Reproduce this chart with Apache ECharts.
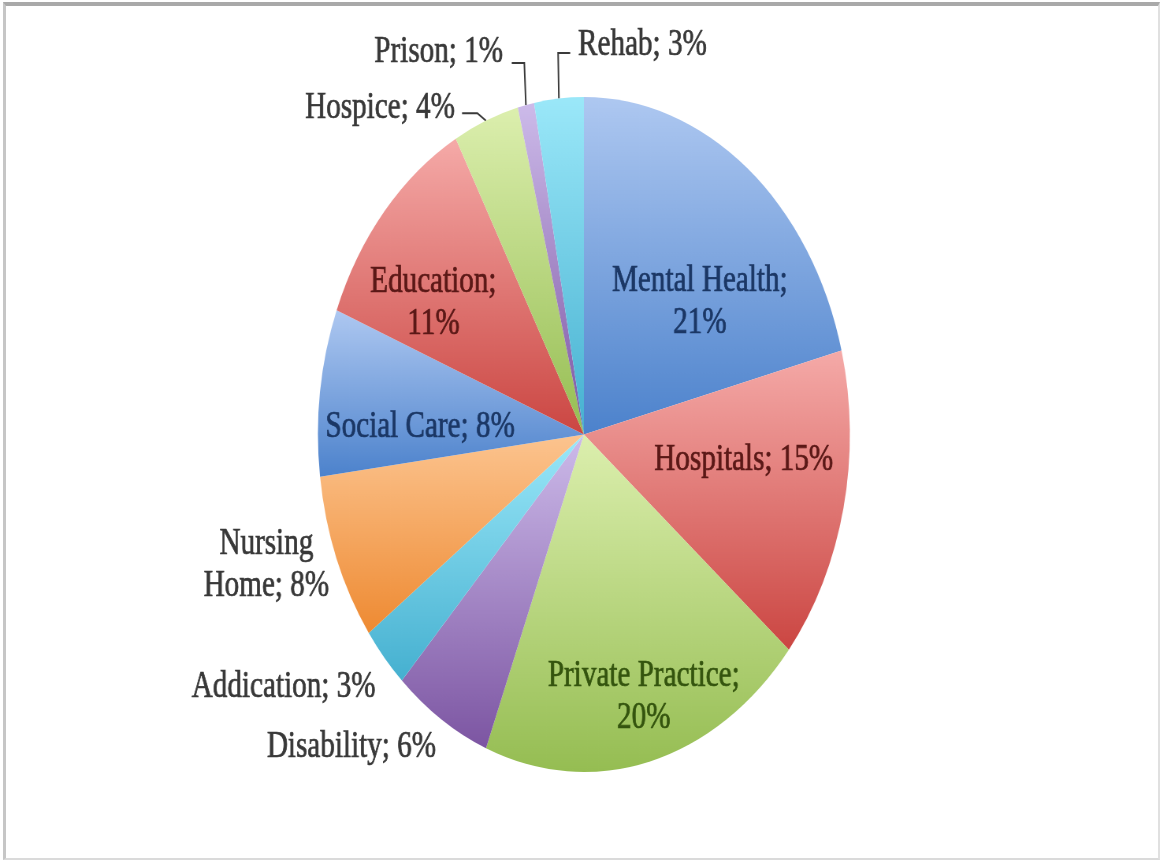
<!DOCTYPE html>
<html>
<head>
<meta charset="utf-8">
<script src="https://cdn.jsdelivr.net/npm/echarts@6/dist/echarts.min.js"></script>
<style>
html,body{margin:0;padding:0;background:#fff;overflow:hidden;width:1161px;height:861px}
#frame{position:absolute;left:3px;top:2px;width:1157px;height:858px;box-sizing:border-box;
  border-top:4px solid #a9a9a9;border-left:3px solid #c6c6c6;border-right:2px solid #e0e0e0;border-bottom:2px solid #dadada;
  pointer-events:none;z-index:2}
#chart{position:absolute;left:0;top:0;width:1473px;height:861px;transform:scaleX(0.788);transform-origin:0 0}
</style>
</head>
<body>
<div id="chart"></div>
<div id="frame"></div>
<script>
// ---- data ----
const categories = ['Mental Health', 'Hospitals', 'Private Practice', 'Disability', 'Addication',
  'Nursing Home', 'Social Care', 'Education', 'Hospice', 'Prison', 'Rehab'];
const values = [21, 15, 20, 6, 3, 8, 8, 11, 4, 1, 3];
const labelTexts = ['Mental Health;\n{v}%', 'Hospitals; {v}%', 'Private Practice;\n{v}%', 'Disability; {v}%',
  'Addication; {v}%', 'Nursing\nHome; {v}%', 'Social Care; {v}%', 'Education;\n{v}%', 'Hospice; {v}%',
  'Prison; {v}%', 'Rehab; {v}%'];

// ---- styling ----
const HUES = [
  {top: '#aec8f1', bottom: '#4c82cc', text: '#1b3765'},
  {top: '#f5aaa8', bottom: '#cb4642', text: '#5a1816'},
  {top: '#dcefae', bottom: '#95bd52', text: '#34540e'},
  {top: '#cdbbea', bottom: '#7c55a2', text: '#3a2454'},
  {top: '#9be8f9', bottom: '#45b0d0', text: '#124a5a'},
  {top: '#fcc48f', bottom: '#ee8a32', text: '#6a3a0a'}
];
const PIE = {cx: 741, cy: 434.5, r: 337.5};
// label anchor relative to pie centre, in radii; text alignment; inside the slice?
const LABEL_AT = {
  'Mental Health': [0.436, -0.393, 'center', true],
  'Hospitals': [0.601, 0.076, 'center', true],
  'Private Practice': [0.225, 0.778, 'center', true],
  'Education': [-0.566, -0.390, 'center', true],
  'Social Care': [-0.616, -0.022, 'center', true],
  'Nursing Home': [-1.194, 0.387, 'center', false],
  'Addication': [-1.129, 0.748, 'center', false],
  'Disability': [-0.874, 0.926, 'center', false],
  'Hospice': [-0.485, -0.967, 'right', false],
  'Prison': [-0.304, -1.133, 'right', false],
  'Rehab': [-0.022, -1.154, 'left', false]
};
const LEADERS = {
  'Hospice': {bend: -11, dy: 5, gap: 9},
  'Prison': {bend: -2, dy: 11, gap: 11},
  'Rehab': {bend: -1, dy: 8, gap: 10}
};
const total = values.reduce((a, b) => a + b, 0);
function midAngle(i) {
  let before = 0;
  for (let k = 0; k < i; k++) before += values[k];
  return (before + values[i] / 2) / total * Math.PI * 2;
}

const data = categories.map((name, i) => {
  const hue = HUES[i % HUES.length];
  const inside = LABEL_AT[name][3];
  const tc = inside ? hue.text : '#383838';
  return {
    name: name,
    value: values[i],
    itemStyle: {
      color: {type: 'linear', x: 0, y: 0, x2: 0, y2: 1,
        colorStops: [{offset: 0, color: hue.top}, {offset: 1, color: hue.bottom}]}
    },
    label: {color: tc, textBorderColor: tc, textBorderWidth: 0.7, position: inside ? 'inside' : 'outside'},
    labelLine: {show: !!LEADERS[name]}
  };
});

const chart = echarts.init(document.getElementById('chart'), null, {renderer: 'canvas'});
chart.setOption({
  backgroundColor: '#ffffff',
  animation: false,
  series: [{
    type: 'pie',
    center: [PIE.cx, PIE.cy],
    radius: PIE.r,
    startAngle: 90,
    clockwise: true,
    avoidLabelOverlap: false,
    silent: true,
    itemStyle: {borderWidth: 0},
    emphasis: {disabled: true},
    label: {
      show: true,
      fontFamily: 'Liberation Serif',
      fontSize: 37,
      lineHeight: 42,
      align: 'center',
      formatter: p => labelTexts[p.dataIndex].replace('{v}', p.value)
    },
    labelLine: {lineStyle: {color: '#3a3a3a', width: 2}, length: 10, length2: 10},
    labelLayout: function (p) {
      const name = categories[p.dataIndex];
      const a = LABEL_AT[name];
      const x = PIE.cx + a[0] * PIE.r;
      const y = PIE.cy + a[1] * PIE.r;
      const out = {x: x, y: y, align: a[2], verticalAlign: 'middle'};
      const lead = LEADERS[name];
      if (lead) {
        const th = midAngle(p.dataIndex);
        const ex = PIE.cx + PIE.r * Math.sin(th);
        const ey = PIE.cy - PIE.r * Math.cos(th);
        const ly = y + lead.dy;
        const lx = a[2] === 'right' ? x + lead.gap : x - lead.gap;
        out.labelLinePoints = [[ex, ey], [ex + lead.bend, ly], [lx, ly]];
      }
      return out;
    },
    data: data
  }]
});
</script>
</body>
</html>
